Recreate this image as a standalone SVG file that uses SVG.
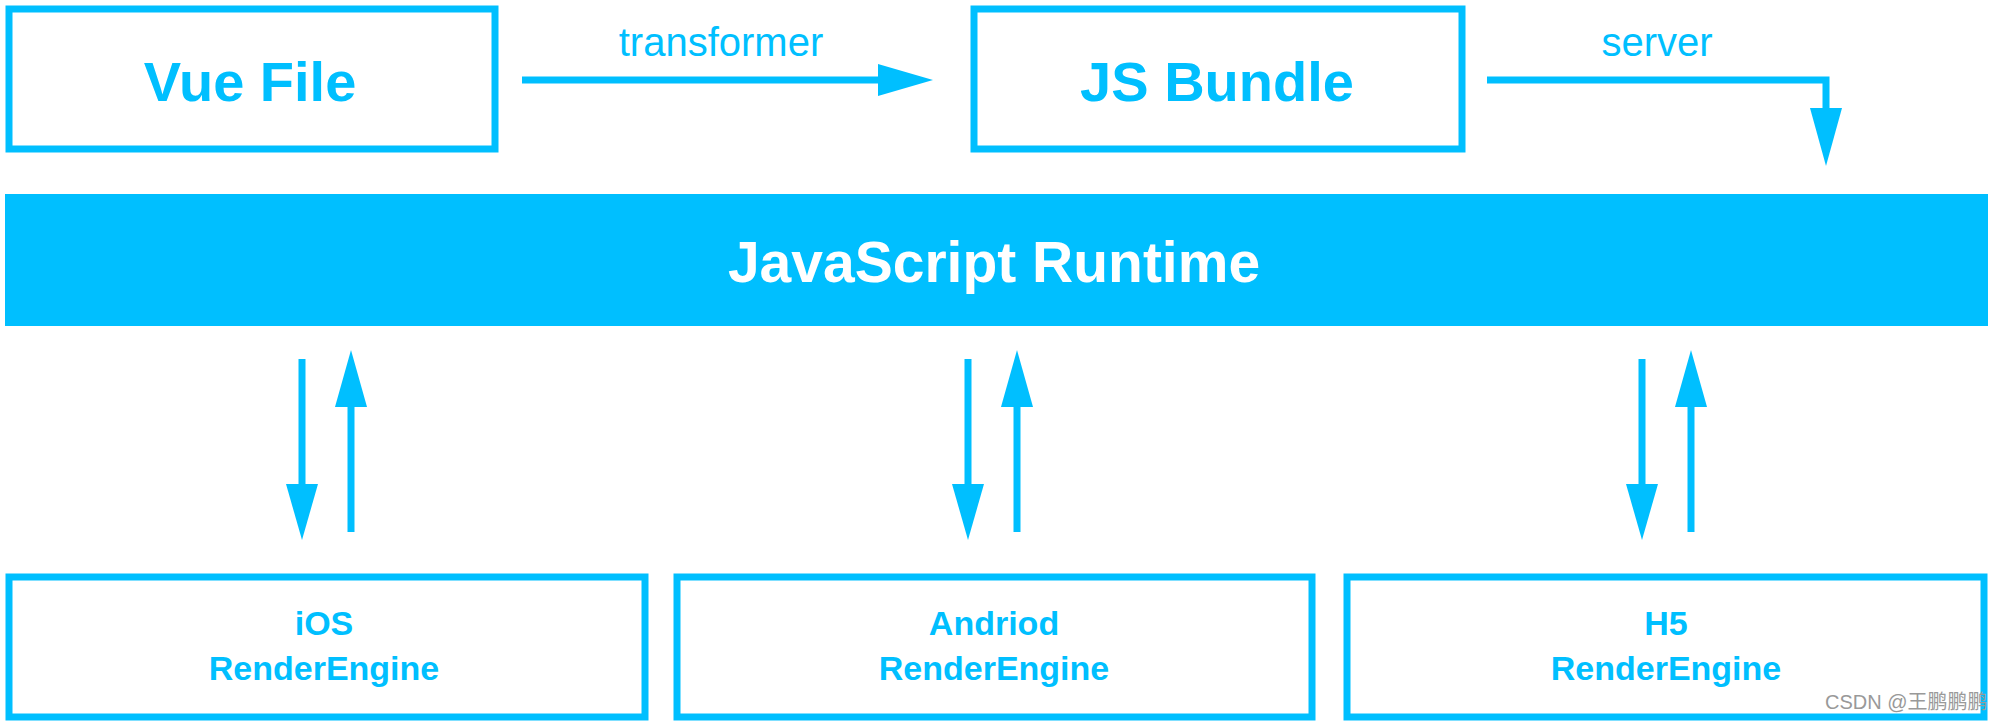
<svg xmlns="http://www.w3.org/2000/svg" width="1991" height="724" viewBox="0 0 1991 724">
<style>
.box{fill:#fff;stroke:#00BFFF;stroke-width:7}
.big{font-family:"Liberation Sans",Arial,sans-serif;font-weight:bold;fill:#00BFFF;text-anchor:middle}
.lbl{font-family:"Liberation Sans",Arial,sans-serif;fill:#00BFFF;text-anchor:middle;font-size:40px}
.ln{stroke:#00BFFF;stroke-width:7;fill:none}
.hd{fill:#00BFFF}
</style>
<rect width="1991" height="724" fill="#fff"/>
<g id="vue"><rect class="box" x="9" y="9" width="486" height="140"/><text class="big" x="250" y="101" font-size="56">Vue File</text></g>
<g id="bundle"><rect class="box" x="974" y="9" width="488" height="140"/><text class="big" x="1217" y="101" font-size="56">JS Bundle</text></g>
<g id="runtime"><rect x="5" y="194" width="1983" height="132" fill="#00BFFF"/><text x="994" y="282" font-size="57" font-family="'Liberation Sans',Arial,sans-serif" font-weight="bold" fill="#fff" text-anchor="middle">JavaScript Runtime</text></g>
<g id="ios"><rect class="box" x="9" y="577" width="636" height="140"/><text class="big" x="324" y="635" font-size="34">iOS</text><text class="big" x="324" y="680" font-size="34">RenderEngine</text></g>
<g id="android"><rect class="box" x="677" y="577" width="635" height="140"/><text class="big" x="994" y="635" font-size="34">Andriod</text><text class="big" x="994" y="680" font-size="34">RenderEngine</text></g>
<g id="h5"><rect class="box" x="1347" y="577" width="637" height="140"/><text class="big" x="1666" y="635" font-size="34">H5</text><text class="big" x="1666" y="680" font-size="34">RenderEngine</text></g>
<g id="connectors">
<path class="ln" d="M522 80H880"/><polygon class="hd" points="878,64 933,80 878,96"/>
<text class="lbl" x="721" y="56">transformer</text>
<path class="ln" d="M1487 80H1826V115"/><polygon class="hd" points="1810,108 1842,108 1826,166"/>
<text class="lbl" x="1657" y="56">server</text>
<path class="ln" d="M302 359V490"/><polygon class="hd" points="286,484 318,484 302,540"/>
<path class="ln" d="M351 532V400"/><polygon class="hd" points="335,407 367,407 351,350"/>
<path class="ln" d="M968 359V490"/><polygon class="hd" points="952,484 984,484 968,540"/>
<path class="ln" d="M1017 532V400"/><polygon class="hd" points="1001,407 1033,407 1017,350"/>
<path class="ln" d="M1642 359V490"/><polygon class="hd" points="1626,484 1658,484 1642,540"/>
<path class="ln" d="M1691 532V400"/><polygon class="hd" points="1675,407 1707,407 1691,350"/>
</g>
<text x="1825" y="709" font-size="20" font-family="'Liberation Sans','Noto Sans CJK SC',sans-serif" fill="#999">CSDN @王鹏鹏鹏</text>
</svg>
